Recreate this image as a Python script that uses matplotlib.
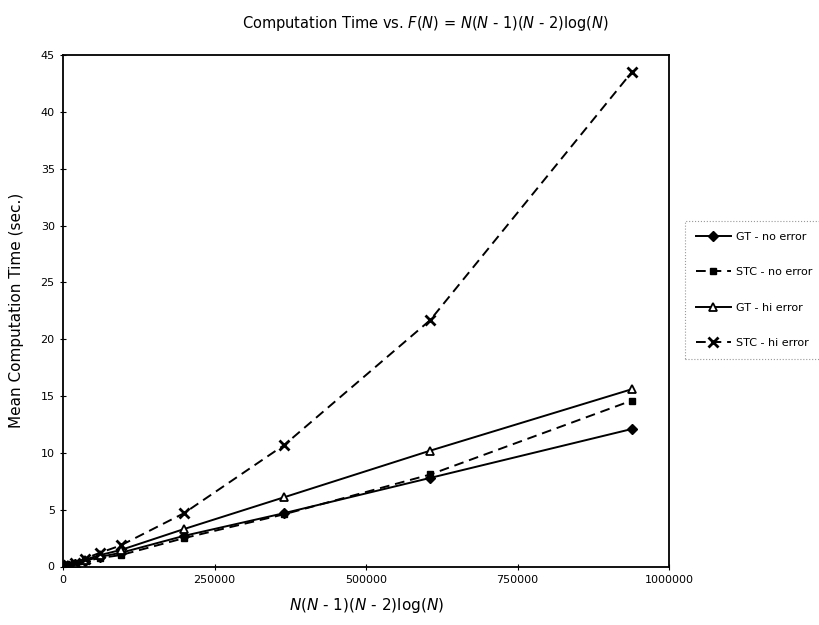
import matplotlib
matplotlib.use('Agg')
import matplotlib.pyplot as plt

# F(N) = N(N-1)(N-2)log(N) values on the x axis
f_values = [42, 720, 3211, 8901, 19290, 35980, 60650, 94970, 199800, 365100, 606000, 938200]

# mean computation time (sec.) per series
gt_no_error = [0.0, 0.01, 0.03, 0.08, 0.2, 0.5, 0.85, 1.2, 2.7, 4.7, 7.8, 12.1]
stc_no_error = [0.0, 0.01, 0.03, 0.07, 0.18, 0.45, 0.75, 1.0, 2.5, 4.6, 8.1, 14.6]
gt_hi_error = [0.0, 0.01, 0.04, 0.1, 0.25, 0.6, 1.0, 1.45, 3.3, 6.1, 10.2, 15.6]
stc_hi_error = [0.0, 0.02, 0.05, 0.12, 0.3, 0.7, 1.2, 1.85, 4.7, 10.7, 21.7, 43.5]

x_ticks = [0, 250000, 500000, 750000, 1000000]
y_ticks = [0, 5, 10, 15, 20, 25, 30, 35, 40, 45]

plt.rcParams['font.family'] = ['DejaVu Sans']

fig = plt.figure(figsize=(8.19, 6.25), dpi=100)
ax = fig.add_axes([0.077, 0.0936, 0.740, 0.818])

ax.plot(f_values, gt_no_error, color='black', linestyle='-', linewidth=1.4,
        marker='D', markersize=5, label='GT - no error')
ax.plot(f_values, stc_no_error, color='black', linestyle=(0, (5, 3)), linewidth=1.4,
        marker='s', markersize=5, label='STC - no error')
ax.plot(f_values, gt_hi_error, color='black', linestyle='-', linewidth=1.4,
        marker='^', markersize=6, markerfacecolor='white', markeredgewidth=1.3,
        label='GT - hi error')
ax.plot(f_values, stc_hi_error, color='black', linestyle=(0, (5, 3)), linewidth=1.4,
        marker='x', markersize=7, markeredgewidth=2, label='STC - hi error')

ax.set_xlim(0, 1000000)
ax.set_ylim(0, 45)
ax.set_xticks(x_ticks)
ax.set_xticklabels([str(t) for t in x_ticks])
ax.set_yticks(y_ticks)
ax.tick_params(direction='inout', length=5, width=0.8, labelsize=8)
for spine in ax.spines.values():
    spine.set_linewidth(1.3)

ax.set_xlabel('$N$(N - 1)(N - 2)log(N)'.replace('N', '$N$').replace('$$N$$', '$N$'),
              fontsize=11, labelpad=8)
ax.set_ylabel('Mean Computation Time (sec.)', fontsize=11, labelpad=12)

fig.text(0.52, 0.962, 'Computation Time vs. $F$($N$) = $N$($N$ - 1)($N$ - 2)log($N$)',
         ha='center', va='center', fontsize=10.5)

leg = fig.legend(loc='upper left', bbox_to_anchor=(0.829, 0.656), fontsize=8,
                 labelspacing=2.3, handlelength=3.2, handletextpad=0.4,
                 borderpad=1.0, fancybox=False, framealpha=1)
leg.get_frame().set_edgecolor('#999999')
leg.get_frame().set_linestyle(':')
leg.get_frame().set_linewidth(0.8)

fig.savefig('out.png', dpi=100)
